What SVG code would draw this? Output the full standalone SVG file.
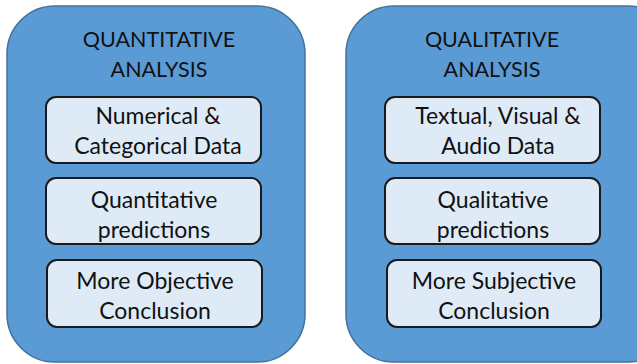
<svg xmlns="http://www.w3.org/2000/svg" width="637" height="364" viewBox="0 0 637 364">
<style>
.outer{fill:#5b9bd5;stroke:#41719c;stroke-width:1.5}
.inner{fill:#deebf7;stroke:#1a1a1a;stroke-width:2}
.t{font-family:Lato,"Open Sans",sans-serif;font-size:23px;fill:#111;text-anchor:middle}
.h{font-size:21.5px}
</style>
<rect width="637" height="364" fill="#ffffff"/>
<g id="quantitative">
<rect class="outer" x="7" y="6" width="298" height="356" rx="48" ry="48"/>
<text class="t h" x="159" y="47">QUANTITATIVE</text>
<text class="t h" x="159" y="77">ANALYSIS</text>
</g>
<g id="qualitative">
<rect class="outer" x="346" y="6" width="330" height="356" rx="48" ry="48"/>
<text class="t h" x="492" y="47">QUALITATIVE</text>
<text class="t h" x="492" y="77">ANALYSIS</text>
</g>
<g id="numerical">
<rect class="inner" x="46" y="97" width="215" height="66" rx="10"/>
<text class="t" x="158" y="124">Numerical &amp;</text>
<text class="t" x="158" y="154">Categorical Data</text>
</g>
<g id="quant-pred">
<rect class="inner" x="46" y="178" width="215" height="66" rx="10"/>
<text class="t" x="154" y="208">Quantitative</text>
<text class="t" x="154" y="238">predictions</text>
</g>
<g id="objective">
<rect class="inner" x="47" y="260" width="215" height="67" rx="10"/>
<text class="t" x="155" y="289">More Objective</text>
<text class="t" x="155" y="319">Conclusion</text>
</g>
<g id="textual">
<rect class="inner" x="385" y="97" width="215" height="66" rx="10"/>
<text class="t" x="498" y="124">Textual, Visual &amp;</text>
<text class="t" x="498" y="154">Audio Data</text>
</g>
<g id="qual-pred">
<rect class="inner" x="385" y="178" width="215" height="66" rx="10"/>
<text class="t" x="493" y="208">Qualitative</text>
<text class="t" x="493" y="238">predictions</text>
</g>
<g id="subjective">
<rect class="inner" x="387" y="260" width="214" height="67" rx="10"/>
<text class="t" x="494" y="289">More Subjective</text>
<text class="t" x="494" y="319">Conclusion</text>
</g>
<g id="connectors"></g>
</svg>
